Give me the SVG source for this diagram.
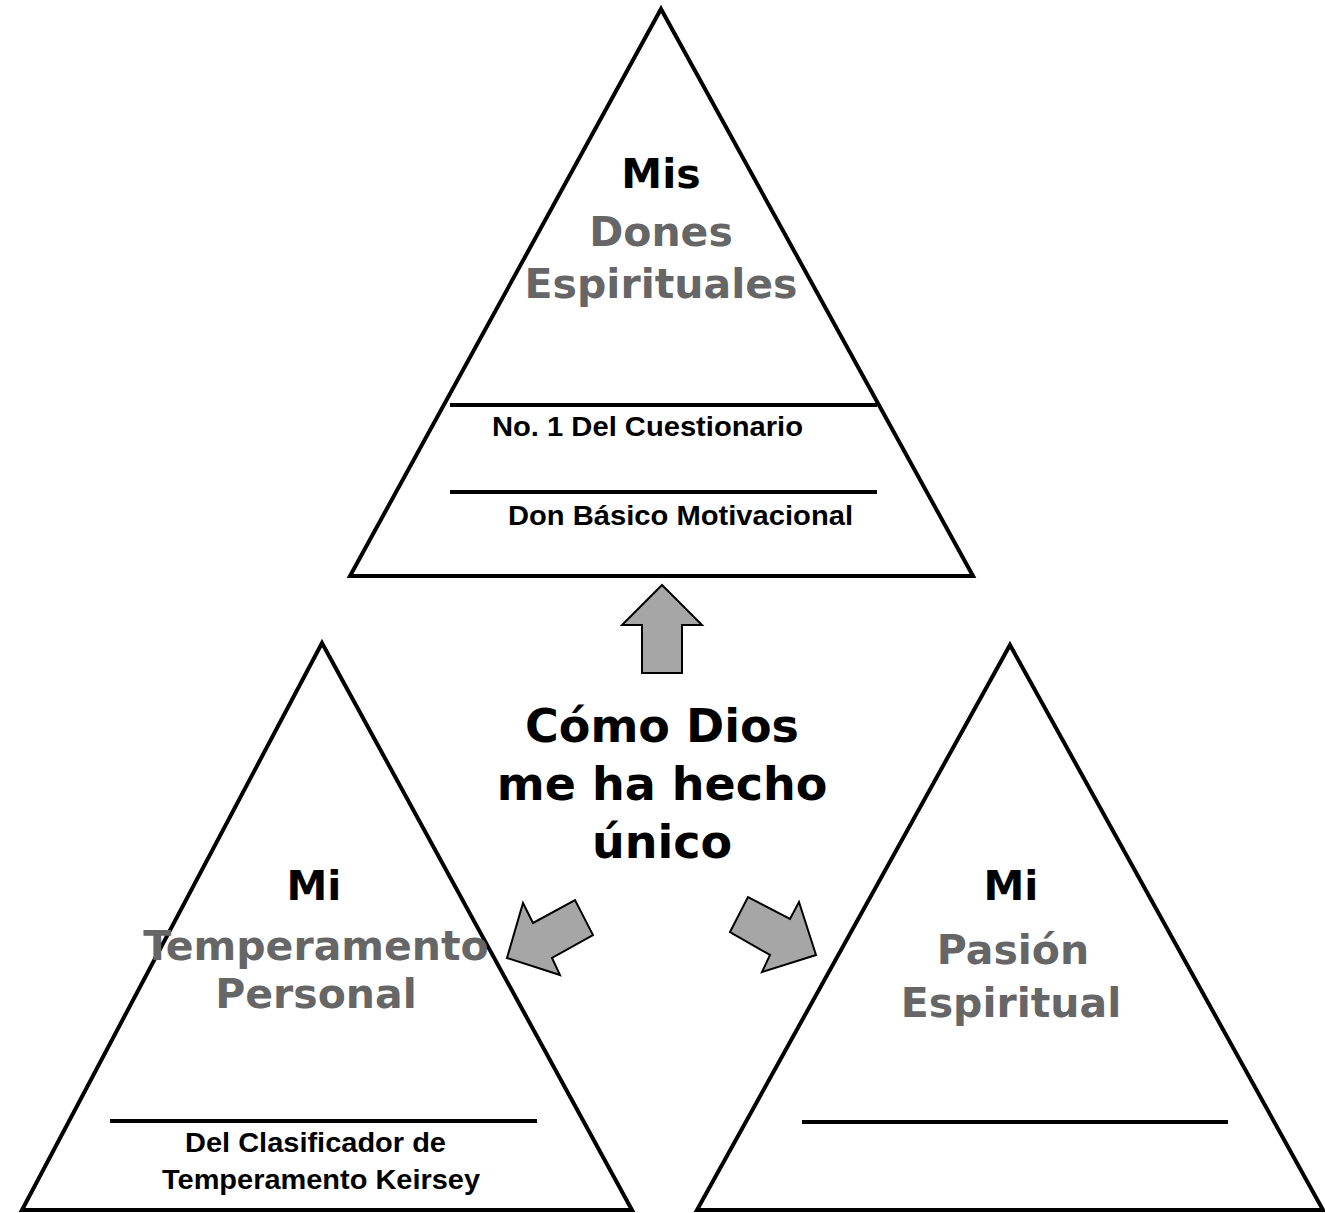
<svg xmlns="http://www.w3.org/2000/svg" width="1325" height="1213" viewBox="0 0 1325 1213">
<style>
.tri{fill:#fff;stroke:#000;stroke-width:4;stroke-linejoin:miter}
.rule{stroke:#000;stroke-width:4}
.arrow{fill:#a6a6a6;stroke:#000;stroke-width:2;stroke-linejoin:miter}
.big{font-family:"DejaVu Sans",Verdana,sans-serif;font-weight:bold;font-size:41px;text-anchor:middle}
.blk{fill:#000}
.gry{fill:#666}
.title{font-family:"DejaVu Sans",Verdana,sans-serif;font-weight:bold;font-size:46px;text-anchor:middle;fill:#000}
.small{font-family:"Liberation Sans",Arial,sans-serif;font-weight:bold;font-size:27px;fill:#000}
</style>
<rect width="1325" height="1213" fill="#fff"/>
<g id="top">
<polygon class="tri" points="661,9 973,576 350,576"/>
<line class="rule" x1="450" y1="405" x2="877" y2="405"/>
<line class="rule" x1="450" y1="492" x2="877" y2="492"/>
<text class="big blk" x="661" y="188">Mis</text>
<text class="big gry" x="661" y="246">Dones</text>
<text class="big gry" x="661" y="298">Espirituales</text>
<text class="small" x="492" y="436" textLength="311" lengthAdjust="spacingAndGlyphs">No. 1 Del Cuestionario</text>
<text class="small" x="508" y="525" textLength="345" lengthAdjust="spacingAndGlyphs">Don Básico Motivacional</text>
</g>
<g id="left">
<polygon class="tri" points="322,643 632,1210 22,1210"/>
<line class="rule" x1="110" y1="1121" x2="537" y2="1121"/>
<text class="big blk" x="314" y="900">Mi</text>
<text class="big gry" x="316" y="960">Temperamento</text>
<text class="big gry" x="316" y="1008">Personal</text>
<text class="small" x="185" y="1152" textLength="261" lengthAdjust="spacingAndGlyphs">Del Clasificador de</text>
<text class="small" x="162" y="1189" textLength="318" lengthAdjust="spacingAndGlyphs">Temperamento Keirsey</text>
</g>
<g id="right">
<polygon class="tri" points="1010,645 1323,1210 697,1210"/>
<line class="rule" x1="802" y1="1122" x2="1228" y2="1122"/>
<text class="big blk" x="1011" y="900">Mi</text>
<text class="big gry" x="1013" y="964">Pasión</text>
<text class="big gry" x="1011" y="1017">Espiritual</text>
</g>
<g id="center">
<text class="title" x="662" y="742">Cómo Dios</text>
<text class="title" x="662" y="800">me ha hecho</text>
<text class="title" x="662" y="858">único</text>
</g>
<g id="connectors">
<polygon class="arrow" points="662,585 702,625 682,625 682,673 642,673 642,625 622,625"/>
<polygon class="arrow" points="507,958 523,903 533,923 575,900 593,935 552,958 560,975"/>
<polygon class="arrow" points="730,932 748,897 790,919 799,902 816,955 762,972 770,955"/>
</g>
</svg>
